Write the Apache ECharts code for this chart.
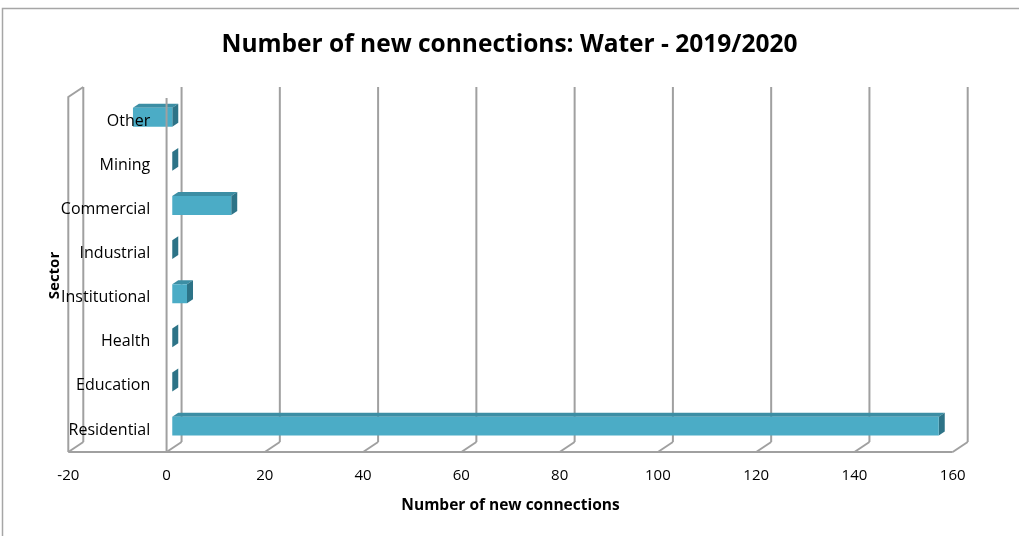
<!DOCTYPE html>
<html>
<head>
<meta charset="utf-8">
<script src="https://cdn.jsdelivr.net/npm/echarts@6/dist/echarts.min.js"></script>
<style>
html,body{margin:0;padding:0;background:#fff;}
#main{width:1019px;height:536px;}
</style>
</head>
<body>
<div id="main"></div>
<script>
// ---- data ----
const categories = ['Residential', 'Education', 'Health', 'Institutional', 'Industrial', 'Commercial', 'Mining', 'Other'];
const values = [156, 0, 0, 3, 0, 12, 0, -8];
const xTicks = [-20, 0, 20, 40, 60, 80, 100, 120, 140, 160];
const titleText = 'Number of new connections: Water - 2019/2020';
const xName = 'Number of new connections';
const yName = 'Sector';

// ---- layout / style ----
const FONT = 'Open Sans';
const DEPTH_X = 15, DEPTH_Y = -10;      // full floor depth
const BAR_F0 = 0.38, BAR_F1 = 0.78;     // bar front/back depth fractions
const GRID_COLOR = '#a0a0a0';
const FRONT_TOP = 97;

const chart = echarts.init(document.getElementById('main'), null, {renderer: 'canvas'});

function renderBar(params, api) {
  const idx = api.value(0);
  const val = api.value(1);
  const p0 = api.coord([0, idx]);
  const p1 = api.coord([val, idx]);
  const h = api.size([0, 1])[1] * 0.43;
  const ox0 = DEPTH_X * BAR_F0, oy0 = DEPTH_Y * BAR_F0;
  const ox1 = DEPTH_X * BAR_F1, oy1 = DEPTH_Y * BAR_F1;
  const xl = Math.min(p0[0], p1[0]) + ox0;
  const xr = Math.max(p0[0], p1[0]) + ox0;
  const top = p0[1] + oy0 - h / 2;
  const bot = p0[1] + oy0 + h / 2;
  const ddx = ox1 - ox0, ddy = oy1 - oy0;
  const children = [];
  if (xr - xl > 0.5) {
    children.push({
      type: 'polygon',
      shape: {points: [[xl, top], [xr, top], [xr + ddx, top + ddy], [xl + ddx, top + ddy]]},
      style: {fill: '#3c8ea4'}
    });
  }
  children.push({
    type: 'polygon',
    shape: {points: [[xr, top], [xr + ddx, top + ddy], [xr + ddx, bot + ddy], [xr, bot]]},
    style: {fill: '#2d7387'}
  });
  if (xr - xl > 0.5) {
    children.push({
      type: 'rect',
      shape: {x: xl, y: top, width: xr - xl, height: bot - top},
      style: {fill: '#4bacc6'}
    });
  }
  return {type: 'group', children: children};
}

const option = {
  animation: false,
  backgroundColor: '#ffffff',
  title: {
    text: titleText,
    left: 'center',
    top: 33,
    padding: 0,
    textStyle: {fontFamily: FONT, fontSize: 24.5, fontWeight: 'bold', color: '#000'}
  },
  grid: {left: 68.3, right: 66.3, top: 99, bottom: 84, containLabel: false},
  xAxis: {
    type: 'value',
    min: -20, max: 160, interval: 20,
    axisLine: {show: false},
    axisTick: {show: false},
    splitLine: {show: false},
    axisLabel: {
      fontFamily: FONT, fontSize: 15, color: '#000', margin: 16,
      formatter: function (v) { return xTicks.indexOf(v) >= 0 ? String(v) : ''; }
    },
    name: xName,
    nameLocation: 'middle',
    nameGap: 46,
    nameMoveOverlap: false,
    nameTextStyle: {fontFamily: FONT, fontSize: 15.5, fontWeight: 'bold', color: '#000'}
  },
  yAxis: {
    type: 'category',
    data: categories,
    offset: -84,
    z: 10,
    axisLine: {show: false},
    axisTick: {show: false},
    axisLabel: {fontFamily: FONT, fontSize: 16, color: '#000', margin: 2, verticalAlign: 'middle', padding: [6, 0, 0, 0]},
    name: yName,
    nameLocation: 'middle',
    nameGap: 90,
    nameRotate: 90,
    nameMoveOverlap: false,
    nameTextStyle: {fontFamily: FONT, fontSize: 15, fontWeight: 'bold', color: '#000', padding: [0, 0, 0, 0]}
  },
  series: [{
    type: 'custom',
    renderItem: renderBar,
    encode: {x: 1, y: 0},
    data: values.map((v, i) => [i, v]),
    z: 5
  }]
};

chart.setOption(option);

function buildFrame() {
  const xs = xTicks.map(v => chart.convertToPixel({xAxisIndex: 0}, v));
  const yBottom = chart.convertToPixel({gridIndex: 0}, [0, 0])[1] + chart.getModel().getComponent('grid').coordinateSystem.getAxis('y').getBandWidth() / 2;
  const floorY = Math.round(yBottom);
  const g = [];
  const ls = {stroke: GRID_COLOR, lineWidth: 2};
  // border
  g.push({type: 'rect', shape: {x: 2.5, y: 8.5, width: 1100, height: 600}, style: {fill: null, stroke: '#a6a6a6', lineWidth: 1.5}, z: 0, silent: true});
  xs.forEach(function (x) {
    g.push({type: 'line', shape: {x1: x + DEPTH_X, y1: FRONT_TOP + DEPTH_Y, x2: x + DEPTH_X, y2: floorY + DEPTH_Y}, style: ls, z: 1, silent: true});
    g.push({type: 'line', shape: {x1: x, y1: floorY, x2: x + DEPTH_X, y2: floorY + DEPTH_Y}, style: ls, z: 1, silent: true});
  });
  // front floor edge
  g.push({type: 'line', shape: {x1: xs[0], y1: floorY, x2: xs[xs.length - 1], y2: floorY}, style: ls, z: 1, silent: true});
  // left wall front edge
  g.push({type: 'polyline', shape: {points: [[xs[0] + DEPTH_X, FRONT_TOP + DEPTH_Y], [xs[0], FRONT_TOP], [xs[0], floorY]]}, style: {stroke: GRID_COLOR, lineWidth: 2, fill: null}, z: 1, silent: true});
  // zero plane front edge (drawn above bars)
  const x0 = chart.convertToPixel({xAxisIndex: 0}, 0);
  g.push({type: 'line', shape: {x1: x0, y1: FRONT_TOP + 1, x2: x0, y2: floorY}, style: ls, z: 8, silent: true});
  chart.setOption({graphic: {elements: g}});
}
buildFrame();
</script>
</body>
</html>
